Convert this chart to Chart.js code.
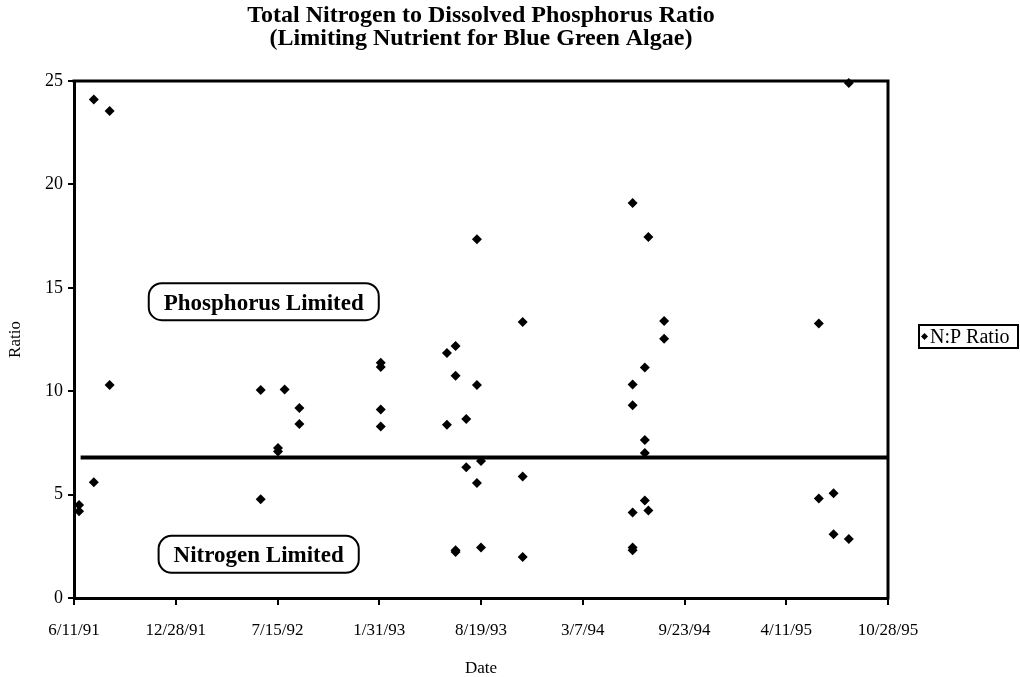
<!DOCTYPE html>
<html>
<head>
<meta charset="utf-8">
<script src="https://cdn.jsdelivr.net/npm/chart.js@4/dist/chart.umd.min.js"></script>
<style>
  html, body { margin: 0; padding: 0; background: #fff; }
  #box { width: 1020px; height: 677px; }
</style>
</head>
<body>
<div id="box"><canvas id="grafico"></canvas></div>
<script>

// sample dates (M/D/YY) and the N:P ratio
const sampleDates = [
  "6/21/91", "6/21/91",
  "7/20/91", "7/20/91",
  "8/20/91", "8/20/91",
  "6/12/92", "6/12/92",
  "7/16/92", "7/16/92",
  "7/29/92",
  "8/27/92", "8/27/92",
  "2/3/93", "2/3/93", "2/3/93", "2/3/93",
  "6/13/93", "6/13/93",
  "6/30/93", "6/30/93", "6/30/93", "6/30/93",
  "7/21/93", "7/21/93",
  "8/11/93", "8/11/93", "8/11/93",
  "8/19/93", "8/19/93",
  "11/9/93", "11/9/93", "11/9/93",
  "6/13/94", "6/13/94", "6/13/94", "6/13/94", "6/13/94", "6/13/94",
  "7/7/94", "7/7/94", "7/7/94", "7/7/94",
  "7/14/94", "7/14/94",
  "8/14/94", "8/14/94",
  "6/14/95", "6/14/95",
  "7/13/95", "7/13/95",
  "8/12/95", "8/12/95"
];
const ratios = [
  4.5, 4.2,
  24.1, 5.6,
  23.55, 10.3,
  10.06, 4.77,
  7.25, 7.09,
  10.08,
  9.19, 8.41,
  11.38, 11.17, 9.12, 8.29,
  11.85, 8.38,
  12.19, 10.75, 2.31, 2.22,
  8.66, 6.32,
  17.35, 10.3, 5.56,
  6.62, 2.44,
  13.35, 5.87, 1.98,
  19.1, 10.33, 9.32, 4.13, 2.44, 2.31,
  11.14, 7.64, 7.01, 4.71,
  17.46, 4.23,
  13.39, 12.54,
  13.27, 4.81,
  5.06, 3.08,
  24.9, 2.85
];

// limit line N:P
const limitDates = ["6/24/91", "10/28/95"];
const limitValues = [6.8, 6.8];

// boxed notes
const noteTexts = ["Phosphorus Limited", "Nitrogen Limited"];
const noteDates = ["6/18/92", "6/8/92"];
const noteValues = [14.33, 2.11];

// axis
const xTickLabels = ["6/11/91", "12/28/91", "7/15/92", "1/31/93", "8/19/93", "3/7/94", "9/23/94", "4/11/95", "10/28/95"];
const xMin = "6/11/91";
const xMax = "10/28/95";
const xStep = 200;
const yTicks = [0, 5, 10, 15, 20, 25];

const titleLines = ["Total Nitrogen to Dissolved Phosphorus Ratio", "(Limiting Nutrient for Blue Green Algae)"];

const fonte = "'Liberation Serif', 'Times New Roman', serif";

// M/D/YY -> serial day number (same as spreadsheet dates)
function serial(txt){
  let p = txt.split("/");
  let utc = Date.UTC(1900 + Number(p[2]), Number(p[0]) - 1, Number(p[1]));
  return Math.round((utc - Date.UTC(1899, 11, 30)) / 86400000);
}

let pontos = sampleDates.map((d, i) => ({ x: serial(d), y: ratios[i] }));
let linha = limitDates.map((d, i) => ({ x: serial(d), y: limitValues[i] }));

// title centred over the plot area
const titulo = {
  id: "titulo",
  afterDraw(chart){
    const a = chart.chartArea;
    const ctx = chart.ctx;
    ctx.save();
    ctx.font = "bold 24px " + fonte;
    ctx.fillStyle = "#000";
    ctx.textAlign = "center";
    ctx.textBaseline = "middle";
    let cx = (a.left + a.right) / 2;
    titleLines.forEach((t, i) => ctx.fillText(t, cx, 16 + i * 23));
    ctx.restore();
  }
};

// box around plot (top + right side)
const moldura = {
  id: "moldura",
  afterDatasetsDraw(chart){
    const a = chart.chartArea;
    const ctx = chart.ctx;
    ctx.save();
    ctx.strokeStyle = "#000";
    ctx.lineWidth = 3;
    ctx.beginPath();
    ctx.moveTo(a.left - 1.5, a.top);
    ctx.lineTo(a.right, a.top);
    ctx.lineTo(a.right, a.bottom + 1.5);
    ctx.stroke();
    ctx.restore();
  }
};

function caixaRedonda(ctx, x, y, w, h, r){
  ctx.beginPath();
  ctx.moveTo(x + r, y);
  ctx.lineTo(x + w - r, y);
  ctx.arcTo(x + w, y, x + w, y + r, r);
  ctx.lineTo(x + w, y + h - r);
  ctx.arcTo(x + w, y + h, x + w - r, y + h, r);
  ctx.lineTo(x + r, y + h);
  ctx.arcTo(x, y + h, x, y + h - r, r);
  ctx.lineTo(x, y + r);
  ctx.arcTo(x, y, x + r, y, r);
  ctx.closePath();
}

// "Phosphorus Limited" / "Nitrogen Limited" labels
const notas = {
  id: "notas",
  afterDatasetsDraw(chart){
    const ctx = chart.ctx;
    const sx = chart.scales.x, sy = chart.scales.y;
    ctx.save();
    ctx.font = "bold 23px " + fonte;
    ctx.textAlign = "center";
    ctx.textBaseline = "middle";
    noteTexts.forEach((t, i) => {
      let cx = sx.getPixelForValue(serial(noteDates[i]));
      let cy = sy.getPixelForValue(noteValues[i]);
      let w = ctx.measureText(t).width + 30;
      let h = 37;
      ctx.fillStyle = "#fff";
      caixaRedonda(ctx, cx - w / 2, cy - h / 2, w, h, 13);
      ctx.fill();
      ctx.lineWidth = 2;
      ctx.strokeStyle = "#000";
      ctx.stroke();
      ctx.fillStyle = "#000";
      ctx.fillText(t, cx, cy + 2);
    });
    ctx.restore();
  }
};

// legend box on the right
const legenda = {
  id: "legenda",
  afterDraw(chart){
    const ctx = chart.ctx;
    const a = chart.chartArea;
    const ds = chart.data.datasets[0];
    let x = a.right + 31, w = 99, h = 23;
    let y = (a.top + a.bottom) / 2 - 3 - h / 2;
    ctx.save();
    ctx.fillStyle = "#fff";
    ctx.fillRect(x, y, w, h);
    ctx.lineWidth = 2;
    ctx.strokeStyle = "#000";
    ctx.strokeRect(x, y, w, h);
    let my = y + h / 2;
    ctx.fillStyle = "#000";
    ctx.beginPath();
    ctx.moveTo(x + 5.5, my - 3.5);
    ctx.lineTo(x + 9, my);
    ctx.lineTo(x + 5.5, my + 3.5);
    ctx.lineTo(x + 2, my);
    ctx.closePath();
    ctx.fill();
    ctx.font = "20px " + fonte;
    ctx.textBaseline = "middle";
    ctx.fillText(ds.label, x + 11, my + 1);
    ctx.restore();
  }
};

const canvas = document.getElementById("grafico");

let chart = new Chart(canvas, {
  type: "scatter",
  data: {
    datasets: [
      {
        label: "N:P Ratio",
        data: pontos,
        pointStyle: "rectRot",
        pointRadius: 5,
        backgroundColor: "#000",
        borderColor: "#000",
        borderWidth: 0,
        clip: false
      },
      {
        label: "limite",
        type: "line",
        data: linha,
        borderColor: "#000",
        borderWidth: 4,
        pointRadius: 0,
        fill: false
      }
    ]
  },
  options: {
    responsive: true,
    maintainAspectRatio: false,
    animation: false,
    events: [],
    layout: {
      padding: { left: 0, right: 132, top: 81, bottom: 0 }
    },
    plugins: {
      legend: { display: false },
      tooltip: { enabled: false },
      title: { display: false }
    },
    scales: {
      x: {
        type: "linear",
        min: serial(xMin),
        max: serial(xMax),
        afterFit(scale){ scale.height = 79; },
        afterBuildTicks(scale){
          scale.ticks = xTickLabels.map((t, i) => ({ value: serial(xMin) + i * xStep }));
        },
        ticks: {
          color: "#000",
          font: { family: fonte, size: 17 },
          padding: 15,
          maxRotation: 0,
          autoSkip: false,
          callback: (v, i) => xTickLabels[i]
        },
        grid: { drawOnChartArea: false, color: "#000", lineWidth: 2, tickLength: 7 },
        border: { color: "#000", width: 3 },
        title: {
          display: true,
          text: "Date",
          color: "#000",
          font: { family: fonte, size: 17, lineHeight: 1.0 },
          padding: { top: 0, bottom: 0 }
        }
      },
      y: {
        min: 0,
        max: 25,
        afterFit(scale){ scale.width = 74; },
        afterBuildTicks(scale){
          scale.ticks = yTicks.map(v => ({ value: v }));
        },
        ticks: {
          color: "#000",
          font: { family: fonte, size: 18 },
          padding: 5
        },
        grid: { drawOnChartArea: false, color: "#000", lineWidth: 2, tickLength: 6 },
        border: { color: "#000", width: 3 },
        title: {
          display: true,
          text: "Ratio",
          color: "#000",
          font: { family: fonte, size: 17, lineHeight: 1.0 },
          padding: { top: 7, bottom: 0 }
        }
      }
    }
  },
  plugins: [titulo, moldura, notas, legenda]
});

</script>
</body>
</html>
